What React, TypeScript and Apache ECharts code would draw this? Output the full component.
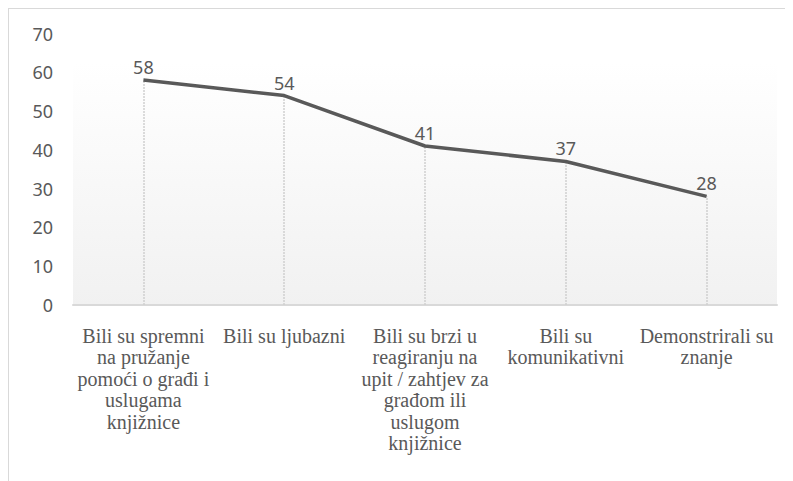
import React, { useEffect, useRef } from "react";
import * as echarts from "echarts";

const categories = [
  "Bili su spremni\nna pružanje\npomoći o građi i\nuslugama\nknjižnice",
  "Bili su ljubazni",
  "Bili su brzi u\nreagiranju na\nupit / zahtjev za\ngrađom ili\nuslugom\nknjižnice",
  "Bili su\nkomunikativni",
  "Demonstrirali su\nznanje",
];
const values = [58, 54, 41, 37, 28];
const yMin = 0;
const yMax = 70;
const yInterval = 10;

export default function App() {
  const ref = useRef<HTMLDivElement>(null);
  useEffect(() => {
    if (!ref.current) return;
    const chart = echarts.init(ref.current, null, { renderer: "svg" });
    chart.setOption({
      animation: false,
      grid: { left: 64, right: 16, top: 24.5, bottom: 176, containLabel: false },
      graphic: [
        {
          type: "rect",
          z: -10,
          silent: true,
          shape: { x: 64, y: 54, width: 704, height: 242 },
          style: {
            fill: new echarts.graphic.LinearGradient(0, 0, 0, 1, [
              { offset: 0, color: "#ffffff" },
              { offset: 1, color: "#f1f1f1" },
            ]),
          },
        },
      ],
      xAxis: {
        type: "category",
        data: categories,
        boundaryGap: true,
        axisLine: { show: true, lineStyle: { color: "#d9d9d9", width: 2 } },
        axisTick: { show: false },
        axisLabel: {
          interval: 0,
          color: "#595959",
          fontFamily: "Liberation Serif",
          fontSize: 20,
          lineHeight: 21.5,
          margin: 20,
          verticalAlign: "top",
        },
        splitLine: { show: false },
      },
      yAxis: {
        type: "value",
        min: yMin,
        max: yMax,
        interval: yInterval,
        axisLine: { show: false },
        axisTick: { show: false },
        splitLine: { show: false },
        axisLabel: {
          color: "#595959",
          fontFamily: "Noto Sans",
          fontSize: 18,
          margin: 20,
        },
      },
      series: [
        {
          type: "line",
          data: values,
          symbol: "circle",
          symbolSize: 0,
          showSymbol: true,
          itemStyle: { color: "#595959" },
          lineStyle: { color: "#595959", width: 3.5 },
          z: 5,
          label: {
            show: true,
            position: "top",
            distance: 4,
            color: "#595959",
            fontFamily: "Noto Sans",
            fontSize: 18,
          },
          markLine: {
            silent: true,
            symbol: "none",
            animation: false,
            label: { show: false },
            lineStyle: { color: "#cfcfcf", width: 1.5, type: [2, 1] },
            data: values.map((v, i) => [
              { coord: [i, 0] },
              { coord: [i, v] },
            ]),
          },
        },
      ],
    });
    return () => chart.dispose();
  }, []);
  return (
    <div
      style={{
        position: "relative",
        width: 785,
        height: 473,
        boxSizing: "border-box",
        borderTop: "1px solid #d9d9d9",
        borderLeft: "1px solid #d9d9d9",
        overflow: "hidden",
      }}
    >
      <div
        ref={ref}
        style={{ position: "absolute", left: 0, top: 0, width: 784, height: 472 }}
      />
    </div>
  );
}
